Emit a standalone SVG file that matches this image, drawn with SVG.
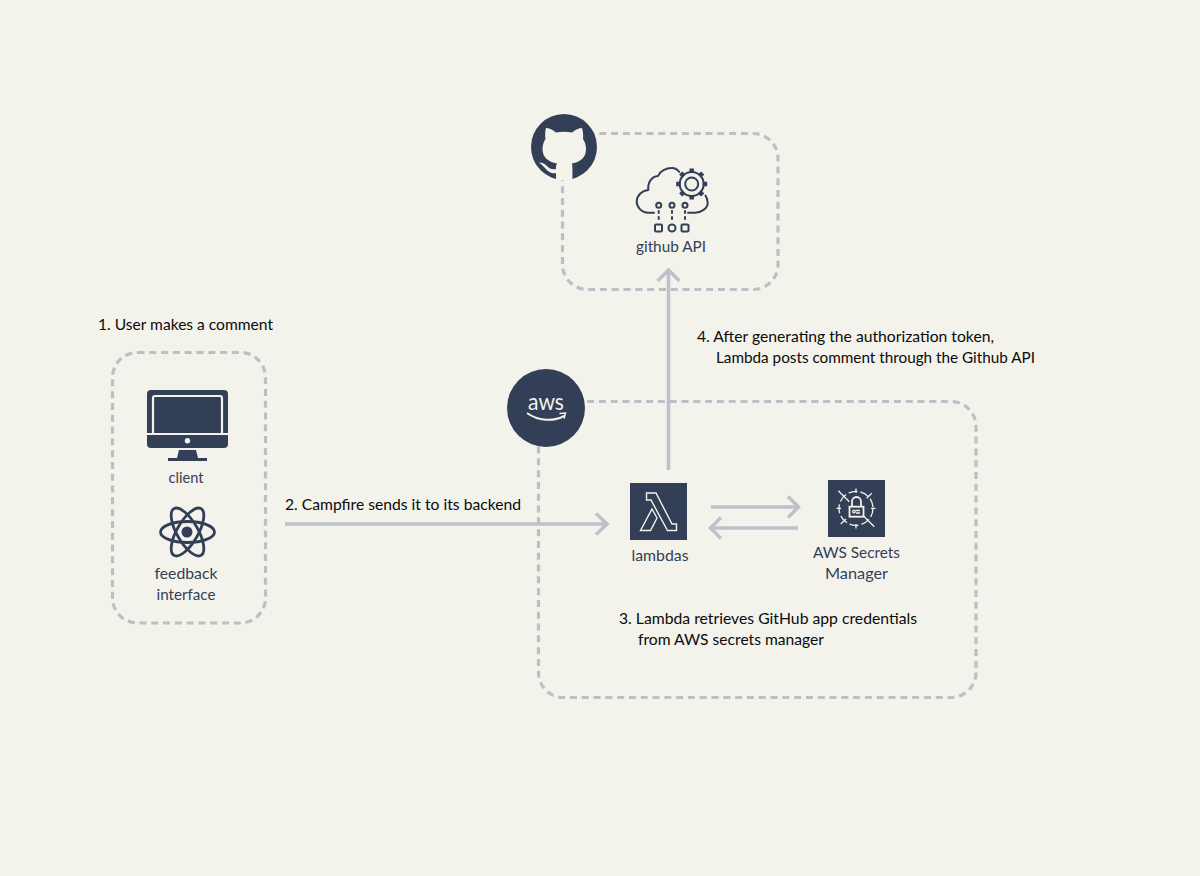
<svg xmlns="http://www.w3.org/2000/svg" width="1200" height="876" viewBox="0 0 1200 876">
<style>
.box{fill:none;stroke:#bcbfc4;stroke-width:3.2;stroke-dasharray:7 4.800}
.conn{fill:none;stroke:#bdc1ca;stroke-width:3.5}
.lbl{font-family:"Lato","Liberation Sans",sans-serif;font-size:15px;fill:#333f57;text-anchor:middle}
.note{font-family:"Lato","Liberation Sans",sans-serif;font-size:15px;fill:#0b0b0b}
.ink{fill:#333f57}
.line{fill:none;stroke:#333f57;stroke-width:2;stroke-linecap:round;stroke-linejoin:round}
.wl{fill:none;stroke:#f3f2eb;stroke-width:1.400}
</style>
<rect width="1200" height="876" fill="#f3f2eb"/>
<g id="regions">
<rect class="box" x="562.500" y="133.500" width="215.500" height="156" rx="25"/>
<rect class="box" x="538.500" y="401.500" width="437.500" height="296" rx="25"/>
<rect class="box" x="112.500" y="352.500" width="153" height="270.500" rx="25"/>
</g>
<g id="connectors">
<path class="conn" d="M285 524H606M596 513.500L607 524L596 534.500"/>
<path class="conn" d="M668.500 470V270M657.500 281L668.500 270L679.500 281"/>
<path class="conn" d="M711 507H798M788 496.500L798.500 507L788 517.500"/>
<path class="conn" d="M798 528H711M721 517.500L710.500 528L721 538.500"/>
</g>
<g id="github-logo">
<circle class="ink" cx="564" cy="147" r="33"/>
<path fill="#f3f2eb" d="M546 128C549 128 553 130 556 132.500C561 131.500 567 131.500 572 132.500C575 130 579 128 582 128C583 131 583.500 136 583 139C585 142 586 145 586 149C586 157 581 162 572 163.500C572.500 166 572.500 172 572.500 180C570 180.500 559 180.500 556 180L556 173C552 174 548 172 545 168C543 166 541 164 539 162.500C543 162 546 165 548 167C550 169 553 169.500 556 169C556 167 556 165 557 163.500C548 162 542.500 157 542.500 149C542.500 145 543.500 142 545.500 139C545 136 545 131 546 128Z"/>
</g>
<g id="github-api">
<path class="line" d="M654 212.700H648C642 212.700 636.700 207.500 636.700 201.500C636.700 195.500 642 190.500 648.300 190C647.500 182 652 176.500 658 176C660 171 666 168 672 168C675 168 677.500 169.500 679.300 172M705.500 195.500C707 198 707.700 200.500 707.700 203C707.700 208.500 701 212.700 695 212.700H688"/>
<circle class="line" cx="691.700" cy="184" r="6.500"/>
<circle class="line" cx="691.700" cy="184" r="12"/>
<path d="M691.700 168.500V173M691.700 195V199.500M676.200 184H680.700M702.700 184H707.200M680.700 173L683.900 176.200M699.500 191.800L702.700 195M680.700 195L683.900 191.800M699.500 176.200L702.700 173" fill="none" stroke="#333f57" stroke-width="4.500"/>
<circle class="line" cx="658.700" cy="205.300" r="2.500"/><circle class="line" cx="672" cy="205.300" r="2.500"/><circle class="line" cx="685" cy="205.300" r="2.500"/>
<path class="line" stroke-dasharray="2 4" d="M658.700 211V222M672 211V222M685 211V222"/>
<rect class="line" x="655" y="224.500" width="7" height="7" rx="1"/><circle class="line" cx="672" cy="228" r="3.500"/><rect class="line" x="681.500" y="224.500" width="7" height="7" rx="1"/>
<text class="lbl" x="671" y="252" textLength="70" lengthAdjust="spacingAndGlyphs">github API</text>
</g>
<g id="aws-logo">
<circle class="ink" cx="546" cy="408" r="39"/>
<text x="546" y="410" font-family="Lato,'Liberation Sans',sans-serif" font-size="23" fill="#f3f2eb" text-anchor="middle" textLength="36" lengthAdjust="spacingAndGlyphs">aws</text>
<path d="M527 413C538 421 553 422 564 416" fill="none" stroke="#f3f2eb" stroke-width="2"/>
<path d="M559.500 413.500L565.500 413L564 418.500" fill="none" stroke="#f3f2eb" stroke-width="1.500"/>
</g>
<g id="client">
<rect class="ink" x="147" y="390" width="81" height="58" rx="4"/>
<path class="ink" d="M179 450H196L198 458H207V461H168V458H177Z"/>
<path fill="none" stroke="#f3f2eb" stroke-width="2.200" d="M153 434V398Q153 396 155 396H220Q222 396 222 398V434"/>
<path stroke="#f3f2eb" stroke-width="2.200" d="M147 434H228"/>
<circle cx="187.500" cy="440.700" r="2.700" fill="#f3f2eb"/>
<text class="lbl" x="186" y="483" textLength="35" lengthAdjust="spacingAndGlyphs">client</text>
</g>
<g id="feedback-interface">
<circle class="ink" cx="187" cy="532" r="5.500"/>
<g fill="none" stroke="#333f57" stroke-width="2.800">
<ellipse cx="187.500" cy="532" rx="27" ry="10.500"/>
<ellipse cx="187.500" cy="532" rx="27" ry="10.500" transform="rotate(60 187.500 532)"/>
<ellipse cx="187.500" cy="532" rx="27" ry="10.500" transform="rotate(120 187.500 532)"/>
</g>
<text class="lbl" x="186" y="579" textLength="63" lengthAdjust="spacingAndGlyphs">feedback</text>
<text class="lbl" x="186" y="600" textLength="59" lengthAdjust="spacingAndGlyphs">interface</text>
</g>
<g id="lambdas">
<rect class="ink" x="630" y="483" width="57" height="57"/>
<path class="wl" d="M646.500 493H656L672 524H676.500V530.500H667.500L651 500H646.500ZM652 509L657 518L650.500 530.500H640.500Z"/>
<text class="lbl" x="660" y="561" textLength="57" lengthAdjust="spacingAndGlyphs">lambdas</text>
</g>
<g id="secrets-manager">
<rect class="ink" x="828" y="480" width="57" height="57"/>
<g fill="none" stroke="#f3f2eb" stroke-width="1.300">
<circle cx="856" cy="508.300" r="17" stroke-dasharray="9 3"/>
<path d="M838.300 490.700L849.300 501.700M871.700 493.300L866.700 498.300M840.700 524L846 519M874.300 526.700L863.300 515.700"/>
<path d="M856 488.500V493M856 524V528.500M836.500 508.300H841M871 508.300H875.500"/>
<rect x="849.500" y="506.700" width="14" height="10" stroke-width="1.800"/>
<path d="M852 506.700V501.500A4.500 4.500 0 0 1 861 501.500V506.700" stroke-width="1.800"/>
<circle cx="854" cy="511.500" r="1.300"/>
<path d="M856 510.500H860M856 513H860"/>
</g>
<text class="lbl" x="856.500" y="558" textLength="87" lengthAdjust="spacingAndGlyphs">AWS Secrets</text>
<text class="lbl" x="856.500" y="579" textLength="63" lengthAdjust="spacingAndGlyphs">Manager</text>
</g>
<g id="notes">
<text class="note" x="98" y="330" textLength="175" lengthAdjust="spacingAndGlyphs">1. User makes a comment</text>
<text class="note" x="285" y="510" textLength="236" lengthAdjust="spacingAndGlyphs">2. Campfire sends it to its backend</text>
<text class="note" x="619" y="624" textLength="298" lengthAdjust="spacingAndGlyphs">3. Lambda retrieves GitHub app credentials</text>
<text class="note" x="638" y="645" textLength="186" lengthAdjust="spacingAndGlyphs">from AWS secrets manager</text>
<text class="note" x="697" y="342" textLength="297" lengthAdjust="spacingAndGlyphs">4. After generating the authorization token,</text>
<text class="note" x="716" y="363" textLength="319" lengthAdjust="spacingAndGlyphs">Lambda posts comment through the Github API</text>
</g>
</svg>
